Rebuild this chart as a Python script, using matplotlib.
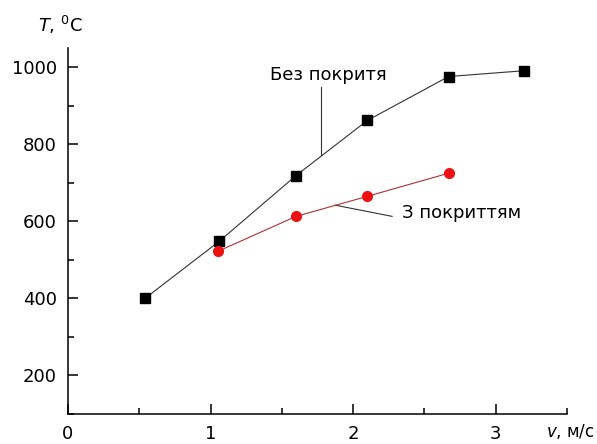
import matplotlib
matplotlib.use("Agg")
import matplotlib.pyplot as plt
from matplotlib.ticker import MultipleLocator

plt.rcParams['font.family'] = ['DejaVu Sans']
plt.rcParams['mathtext.fontset'] = 'custom'
plt.rcParams['mathtext.rm'] = 'DejaVu Sans'
plt.rcParams['mathtext.it'] = 'DejaVu Sans:italic'

# Data
v_no_coat = [0.54, 1.06, 1.60, 2.10, 2.67, 3.20]
T_no_coat = [400, 548, 719, 862, 976, 991]
v_coat = [1.05, 1.60, 2.10, 2.67]
T_coat = [522, 613, 665, 725]
x_ticks = [0, 1, 2, 3]
y_ticks = [200, 400, 600, 800, 1000]
label_no_coat = "Без покритя"
label_coat = "З покриттям"

fig = plt.figure(figsize=(5.97, 4.44), dpi=100)
ax = fig.add_axes([0.1139, 0.0676, 0.8358, 0.8243])

ax.plot(v_no_coat, T_no_coat, color='#333333', lw=0.8, marker='s', ms=6.5,
        mfc='black', mec='black', zorder=3)
ax.plot(v_coat, T_coat, color='#b03030', lw=0.8, marker='o', ms=7,
        mfc='#ee1111', mec='#ee1111', zorder=3)

ax.set_xlim(0, 3.5)
ax.set_ylim(100, 1050)
ax.set_xticks(x_ticks)
ax.set_yticks(y_ticks)
ax.xaxis.set_minor_locator(MultipleLocator(0.5))
ax.yaxis.set_minor_locator(MultipleLocator(100))
ax.tick_params(which='major', direction='in', length=7, width=1.1, labelsize=13, pad=8)
ax.tick_params(which='minor', direction='in', length=4, width=1.1)
for s in ['top', 'right']:
    ax.spines[s].set_visible(False)
for s in ['left', 'bottom']:
    ax.spines[s].set_linewidth(1.1)

# Annotations
ax.plot([1.776, 1.776], [948, 771], color='#333333', lw=0.8)
ax.text(1.415, 979, label_no_coat, fontsize=13, va='center', ha='left')
ax.plot([1.874, 2.273], [642, 613], color='#333333', lw=0.8)
ax.text(2.34, 621, label_coat, fontsize=13, va='center', ha='left')

fig.text(0.064, 0.944, r"$T$, $^{0}$C", fontsize=13, va='center', ha='left')
fig.text(0.996, 0.006, r"$v$, м/с", fontsize=12, va='bottom', ha='right')

fig.savefig("out.png", dpi=100)
